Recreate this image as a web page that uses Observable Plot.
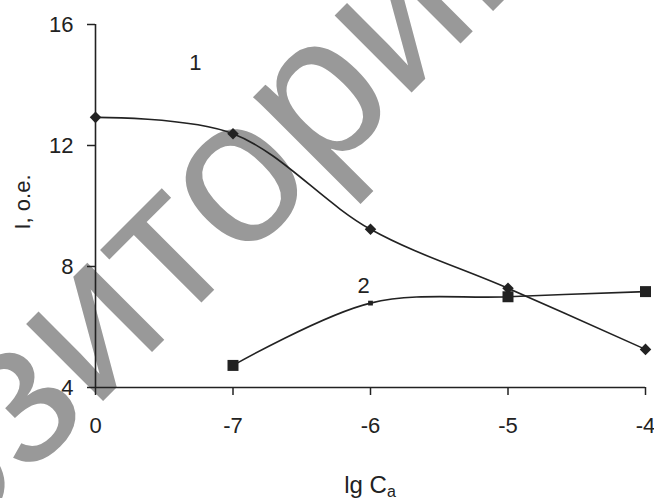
<!DOCTYPE html>
<html>
<head>
<meta charset="utf-8">
<script src="https://cdn.jsdelivr.net/npm/d3@7"></script>
<script src="https://cdn.jsdelivr.net/npm/@observablehq/plot@0.6"></script>
<style>
  html, body { margin: 0; padding: 0; background: #fff; }
  #chart { position: relative; width: 654px; height: 498px; overflow: hidden; }
</style>
</head>
<body>
<div id="chart"></div>
<script>
// Data
const categories = ["0", "-7", "-6", "-5", "-4"];          // lg Ca
const series1 = [12.93, 12.39, 9.23, 7.28, 5.26];          // curve 1 (diamonds)
const series2 = [null, 4.73, 6.79, 7.0, 7.17];             // curve 2 (squares)
const yTicks = [4, 8, 12, 16];
const curveLabels = ["1", "2"];
const curveLabelX = [0.727, 1.95];   // position in category index units
const curveLabelY = [14.74, 7.37];
const watermarkText = "репозиторий";

const rows1 = categories.map((c, i) => ({i, c, v: series1[i]})).filter(d => d.v != null);
const rows2 = categories.map((c, i) => ({i, c, v: series2[i]})).filter(d => d.v != null);
const labels = curveLabels.map((t, k) => ({t, x: curveLabelX[k], y: curveLabelY[k]}));

const ink = "#222";
const font = "'Liberation Sans', Arial, sans-serif";

const svg = Plot.plot({
  width: 654,
  height: 498,
  marginLeft: 95,
  marginRight: 9,
  marginTop: 24,
  marginBottom: 111,
  style: {background: "transparent", fontFamily: font, fontSize: "22px", color: ink, overflow: "hidden"},
  x: {type: "linear", domain: [0, categories.length - 1]},
  y: {domain: [4, 16]},
  r: {type: "identity"},
  marks: [
    Plot.axisX({ticks: d3.range(categories.length), tickFormat: i => categories[i], tickSize: 8,
      tickPadding: 22, fontSize: 22, strokeWidth: 1.5, label: null}),
    Plot.axisY({ticks: yTicks, tickSize: 8, tickPadding: 14, fontSize: 22, strokeWidth: 1.5, label: null}),
    Plot.ruleY([4], {stroke: ink, strokeWidth: 1.6}),
    Plot.ruleX([0], {stroke: ink, strokeWidth: 1.6}),
    Plot.line(rows1, {x: "i", y: "v", curve: "catmull-rom", stroke: ink, strokeWidth: 1.6}),
    Plot.line(rows2, {x: "i", y: "v", curve: "catmull-rom", stroke: ink, strokeWidth: 1.6}),
    Plot.dot(rows1, {x: "i", y: "v", symbol: "diamond2", fill: ink, stroke: "none", r: 5.2}),
    Plot.dot(rows2, {x: "i", y: "v", symbol: "square", fill: ink, stroke: "none",
      r: d => d.c === "-6" ? 2.7 : 6.2}),
    Plot.text(labels, {x: "x", y: "y", text: "t", fontSize: 22, fill: ink}),
    Plot.text(["I, о.е."], {text: d => d, frameAnchor: "left", dx: -73, dy: -4, rotate: -90,
      fontSize: 22, fill: ink, textAnchor: "middle", lineAnchor: "middle"})
  ]
});

// x-axis title with subscript
const t = d3.select(svg).append("text")
  .attr("x", 370).attr("y", 493)
  .attr("text-anchor", "middle")
  .attr("font-size", 24)
  .attr("fill", ink)
  .attr("font-family", font);
t.append("tspan").text("lg C");
t.append("tspan").attr("font-size", 16).attr("dy", 4).text("a");

document.getElementById("chart").appendChild(svg);

// grey diagonal watermark, drawn underneath the chart
const wm = d3.select(svg).insert("text", ":first-child")
  .attr("font-family", font)
  .attr("font-size", 206)
  .attr("fill", "#999")
  .text(watermarkText);
const ext = wm.node().getExtentOfChar(6);   // the letter "т"
const cx = ext.x + ext.width / 2;
wm.attr("transform", `translate(207,297) rotate(-45) translate(${-cx},0)`);
</script>
</body>
</html>
